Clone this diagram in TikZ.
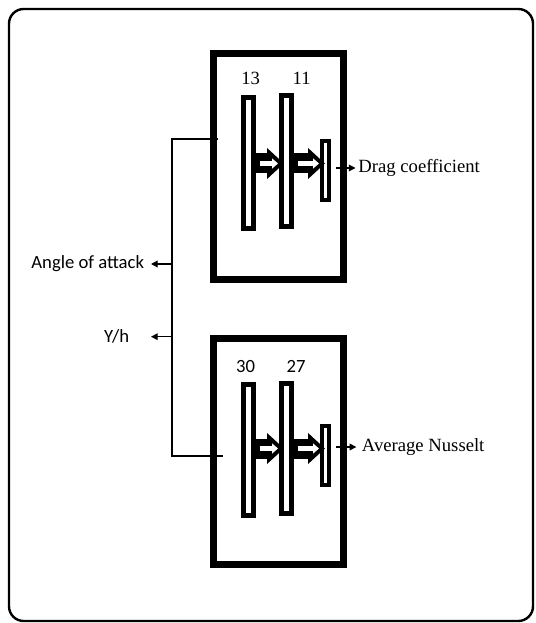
\documentclass[tikz,border=0pt]{standalone}
\usepackage{fontspec}
\setmainfont{Liberation Serif}
\newfontfamily\calibri{Carlito}
\usetikzlibrary{arrows.meta,calc}
\tikzset{
  outerframe/.style={draw=black,line width=1.8pt,rounded corners=11pt},
  unitbox/.style={draw=black,line width=5pt,minimum width=97.5pt,
                  minimum height=169.8pt,inner sep=0pt},
  plate/.style={draw=black,line width=3.75pt,minimum width=7.5pt,
                minimum height=98pt,inner sep=0pt},
  smallplate/.style={draw=black,line width=3pt,minimum width=5.25pt,
                     minimum height=44pt,inner sep=0pt},
  blockout/.style={line width=15pt,-{Triangle[length=12.75pt,width=22.5pt]}},
  blockin/.style={white,line width=3.75pt,-{Triangle[length=4.5pt,width=7.5pt]}},
  thinline/.style={line width=1pt},
  arrowthin/.style={line width=0.9pt,-{Triangle[length=5pt,width=5pt]}},
  serif/.style={font=\fontsize{14}{16}\selectfont,inner sep=2pt},
  sans/.style={font=\calibri\fontsize{14}{16}\selectfont,inner sep=2pt},
}
\begin{document}
\begin{tikzpicture}[x=0.75pt,y=-0.75pt]
  \useasboundingbox (0,0) rectangle (535,623);
  \draw[outerframe] (9,9) rectangle (533,621);
  % upper unit
  \node[unitbox] (box1) at (278.3,166.5) {};
  \node[plate] (pa1) at (248.2,163.3) {};
  \node[plate] (pb1) at (286.5,161.3) {};
  \node[smallplate] (pc1) at (325.5,170.5) {};
  \node[serif] (n13) at (250.7,78) {13};
  \node[serif] (n11) at (301.7,78) {11};
  \node[serif,anchor=west] (drag) at (355.5,168) {Drag coefficient};
  \coordinate (ar1) at (0,163.5);
  % lower unit
  \node[unitbox] (box2) at (278.3,451.5) {};
  \node[plate] (pa2) at (248,450) {};
  \node[plate] (pb2) at (286.5,448.4) {};
  \node[smallplate] (pc2) at (325.5,455.7) {};
  \node[sans] (n30) at (245.7,366.7) {30};
  \node[sans] (n27) at (296,366.7) {27};
  \node[serif,anchor=west] (nusselt) at (359,447) {Average Nusselt};
  \coordinate (ar2) at (0,448.5);
  % hollow arrows between plates
  \foreach \a/\b/\r in {pa1/pb1/ar1,pb1/pc1/ar1,pa2/pb2/ar2,pb2/pc2/ar2}{
    \draw[blockout] (\a.east |- \r) -- ($(\b.west |- \r)+(5,0)$);
    \draw[blockin] ($(\a.east |- \r)+(4,0)$) -- ($(\b.west |- \r)+(-1,0)$);
  }
  \draw[arrowthin,shorten <=3.75pt] (drag.west -| pc1.east) -- (drag.west);
  \draw[arrowthin,shorten <=3.75pt,shorten >=2pt]
    (nusselt.west -| pc2.east) -- (nusselt.west);
  % inputs
  \coordinate (in1) at (218,139);
  \coordinate (in2) at (223,456);
  \coordinate (jt) at (172,139);
  \coordinate (jb) at (172,456);
  \draw[thinline] (in1) -- (jt) -- (jb) -- (in2);
  \node[sans,anchor=east] (angle) at (147,264) {Angle of attack};
  \node[sans,anchor=east] (yh) at (132,336.7) {Y/h};
  \draw[arrowthin,shorten >=3pt] (angle.east -| jt) -- (angle.east);
  \draw[arrowthin,shorten >=14.25pt] (yh.east -| jt) -- (yh.east);
\end{tikzpicture}
\end{document}
